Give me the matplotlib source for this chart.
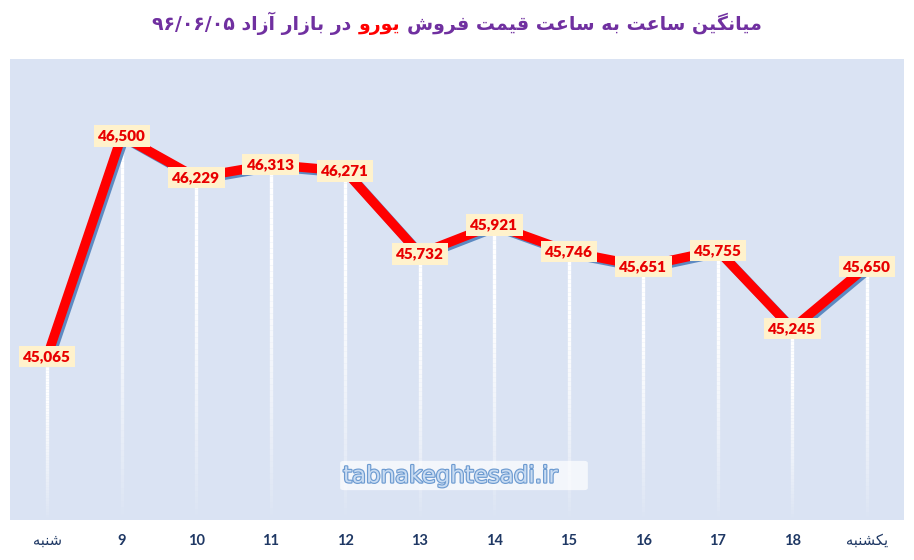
import numpy as np
import matplotlib
matplotlib.use("Agg")
import matplotlib.pyplot as plt
from matplotlib import patheffects as pe
from matplotlib.collections import LineCollection
from matplotlib.offsetbox import TextArea, HPacker, AnchoredOffsetbox
from matplotlib.patches import FancyBboxPatch

# ---------------- data ----------------
categories = ["شنبه", "9", "10", "11", "12", "13", "14", "15", "16", "17", "18", "یکشنبه"]
prices = [45065, 46500, 46229, 46313, 46271, 45732, 45921, 45746, 45651, 45755, 45245, 45650]
title_part1 = "میانگین ساعت به ساعت قیمت فروش"
title_red = "یورو"
title_part2 = "در بازار آزاد ۹۶/۰۶/۰۵"
watermark = "tabnakeghtesadi.ir"

# ------------- minimal Persian shaping -------------
FORMS = {  # isolated, final, initial, medial
    'ا': ('\uFE8D', '\uFE8E', None, None),
    'آ': ('\uFE81', '\uFE82', None, None),
    'ب': ('\uFE8F', '\uFE90', '\uFE91', '\uFE92'),
    'ت': ('\uFE95', '\uFE96', '\uFE97', '\uFE98'),
    'د': ('\uFEA9', '\uFEAA', None, None),
    'ر': ('\uFEAD', '\uFEAE', None, None),
    'ز': ('\uFEAF', '\uFEB0', None, None),
    'س': ('\uFEB1', '\uFEB2', '\uFEB3', '\uFEB4'),
    'ش': ('\uFEB5', '\uFEB6', '\uFEB7', '\uFEB8'),
    'ع': ('\uFEC9', '\uFECA', '\uFECB', '\uFECC'),
    'ف': ('\uFED1', '\uFED2', '\uFED3', '\uFED4'),
    'ق': ('\uFED5', '\uFED6', '\uFED7', '\uFED8'),
    'م': ('\uFEE1', '\uFEE2', '\uFEE3', '\uFEE4'),
    'ن': ('\uFEE5', '\uFEE6', '\uFEE7', '\uFEE8'),
    'ه': ('\uFEE9', '\uFEEA', '\uFEEB', '\uFEEC'),
    'و': ('\uFEED', '\uFEEE', None, None),
    'ی': ('\uFBFC', '\uFBFD', '\uFBFE', '\uFBFF'),
    'ک': ('\uFB8E', '\uFB8F', '\uFB90', '\uFB91'),
    'گ': ('\uFB92', '\uFB93', '\uFB94', '\uFB95'),
}


def dual(c):
    return c in FORMS and FORMS[c][2] is not None


def shape(s):
    out = []
    for i, c in enumerate(s):
        if c not in FORMS:
            out.append(c)
            continue
        prev_j = i > 0 and dual(s[i - 1])
        next_j = dual(c) and i + 1 < len(s) and s[i + 1] in FORMS
        iso, fin, ini, med = FORMS[c]
        if prev_j and next_j:
            out.append(med)
        elif prev_j:
            out.append(fin)
        elif next_j:
            out.append(ini)
        else:
            out.append(iso)
    vis = ''.join(out)[::-1]
    res, run = [], []
    for ch in vis:
        if ch.isdigit() or ch == '/':
            run.append(ch)
        else:
            if run:
                res.extend(run[::-1]); run = []
            res.append(ch)
    if run:
        res.extend(run[::-1])
    return ''.join(res)


def is_persian(s):
    return any(c in FORMS for c in s)


# ---------------- figure ----------------
W, H = 914, 560
fig = plt.figure(figsize=(W / 100, H / 100), dpi=100)
fig.patch.set_facecolor("white")
ax = fig.add_axes([10 / W, 40 / H, 894 / W, 461 / H])
ax.set_facecolor("#DAE3F3")
for sp in ax.spines.values():
    sp.set_visible(False)

x = np.arange(len(categories))
ymin, ymax = 44000, 47000
ax.set_xlim(-0.5, len(categories) - 0.5)
ax.set_ylim(ymin, ymax)

# fading white drop lines
for xi, yi in zip(x, prices):
    n = 60
    ys = np.linspace(yi, ymin, n + 1)
    segs = [[(xi, ys[k]), (xi, ys[k + 1])] for k in range(n)]
    t = np.linspace(0, 1, n)
    alpha = np.clip(1.3 * (1 - t) ** 0.8, 0, 1)
    cols = [(1, 1, 1, a) for a in alpha]
    lc = LineCollection(segs, colors=cols, linewidths=2.4, zorder=1)
    ax.add_collection(lc)

# red line with blue shadow
ax.plot(x, prices, color="#FF0000", lw=6.8, solid_joinstyle="miter", zorder=3,
        path_effects=[pe.SimpleLineShadow(offset=(1.8, -1.6), shadow_color="#4F81BD", alpha=0.9, rho=1.0),
                      pe.Normal()])

# data labels
for xi, yi in zip(x, prices):
    ax.text(xi, yi, f"{yi:,}", ha="center", va="center", color="#E80000",
            fontsize=11, fontweight="heavy", family=["Lato", "DejaVu Sans"], zorder=5,
            bbox=dict(boxstyle="square,pad=0.28", facecolor="#FFF2CC", edgecolor="none"))

# ticks
ax.set_yticks([])
ax.set_xticks(x)
ax.set_xticklabels([shape(c) for c in categories], fontsize=10.5,
                   color="#1F3864", family=["Lato", "DejaVu Sans"])
for lab, c in zip(ax.get_xticklabels(), categories):
    lab.set_fontweight("normal" if is_persian(c) else "bold")
ax.tick_params(axis="x", length=0, pad=10)

# title (mixed colours)
tkw = dict(fontsize=13.6, fontweight="bold", family=["DejaVu Sans"])
purple = "#7030A0"
boxes = [TextArea(shape(title_part2), textprops=dict(color=purple, **tkw)),
         TextArea(shape(title_red), textprops=dict(color="#FF0000", **tkw)),
         TextArea(shape(title_part1), textprops=dict(color=purple, **tkw))]
pack = HPacker(children=boxes, align="baseline", pad=0, sep=5)
anch = AnchoredOffsetbox(loc="center", child=pack, frameon=False,
                         bbox_to_anchor=(0.5, 1 - 23 / H), bbox_transform=fig.transFigure,
                         borderpad=0, pad=0)
fig.add_artist(anch)

# watermark
fig.patches.append(FancyBboxPatch((342 / W, 1 - 489 / H), 244 / W, 27 / H,
                                  boxstyle="round,pad=0.002,rounding_size=0.004",
                                  transform=fig.transFigure,
                                  facecolor="white", alpha=0.7, edgecolor="none", zorder=6))
fig.text(343 / W, 1 - 476 / H, watermark, ha="left", va="center", fontsize=16.5,
         color="#C9DCF2", family="DejaVu Sans", zorder=7,
         path_effects=[pe.withStroke(linewidth=1.7, foreground="#6D9BD1")])

fig.savefig("out.png", dpi=100)
